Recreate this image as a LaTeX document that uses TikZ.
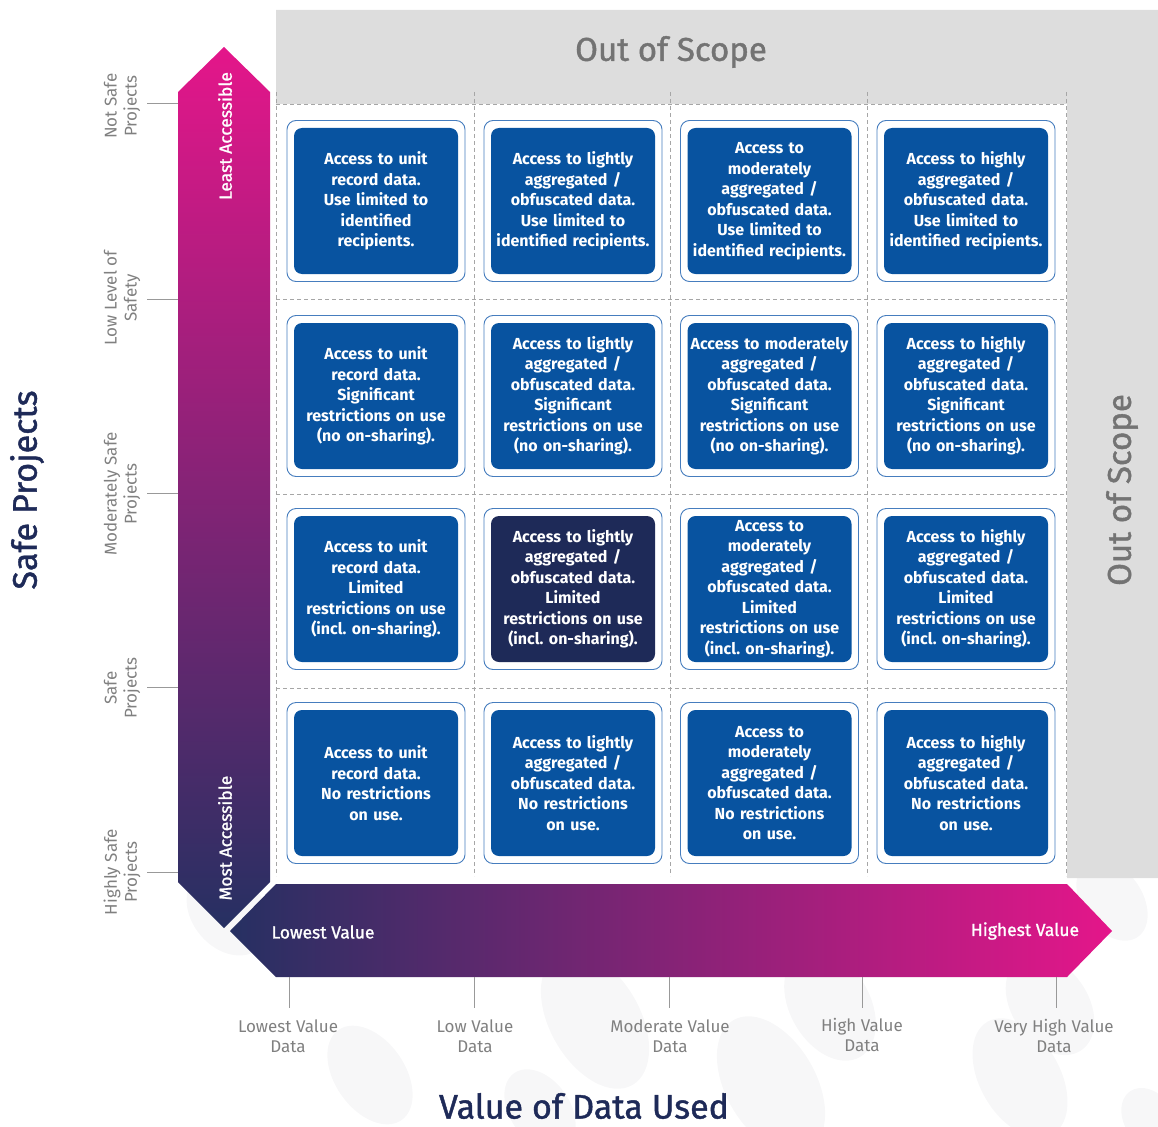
\documentclass[tikz,border=0pt]{standalone}
\usepackage{fontspec}
\setmainfont{Fira Sans}
\newfontfamily\medfont{Fira Sans}[FakeBold=1.2]
\usetikzlibrary{positioning}
\definecolor{cell-blue}{RGB}{8,83,160}
\definecolor{cell-navy}{RGB}{30,42,88}
\definecolor{frame-blue}{RGB}{70,125,190}
\definecolor{arrow-pink}{RGB}{228,22,138}
\definecolor{arrow-navy}{RGB}{38,48,98}
\definecolor{scope-grey}{RGB}{221,221,221}
\definecolor{label-grey}{RGB}{128,128,128}
\definecolor{blob-grey}{RGB}{247,247,248}
\frenchspacing

\begin{document}
\begin{tikzpicture}[
  x=1pt, y=-1pt,
  cellframe/.style={draw=frame-blue, line width=0.9pt, fill=white, rounded corners=9pt, minimum width=178pt, minimum height=161pt, inner sep=0pt},
  cell/.style={fill=cell-blue, rounded corners=8pt, minimum width=162pt, minimum height=146pt, text width=164pt, align=center, text=white, inner sep=0pt, font=\bfseries\fontsize{16}{20.5}\selectfont},
  axlab/.style={text=label-grey, align=center, font=\fontsize{17}{20}\selectfont},
  axtick/.style={draw=label-grey!80, line width=1pt},
  gridline/.style={draw=label-grey!70, dash pattern=on 4pt off 3pt, line width=0.9pt},
  arrtext/.style={text=white, font=\medfont\fontsize{17.5}{20}\selectfont},
  axtitle/.style={text=cell-navy, font=\medfont\fontsize{34}{36}\selectfont},
  scopetext/.style={text=label-grey!90!black, font=\medfont\fontsize{33}{34}\selectfont},
  blob/.style={fill=blob-grey},
]
  \useasboundingbox (0,0) rectangle (1158,1126);

  % faint background blobs
  \fill[blob, rotate around={-50:(228,912)}] (228,912) ellipse [x radius=48pt, y radius=36pt];
  \fill[blob, rotate around={-55:(1112,900)}] (1112,900) ellipse [x radius=45pt, y radius=30pt];
  \fill[blob, rotate around={-55:(370,1075)}] (370,1075) ellipse [x radius=55pt, y radius=35pt];
  \fill[blob, rotate around={-60:(595,1020)}] (595,1020) ellipse [x radius=75pt, y radius=45pt];
  \fill[blob, rotate around={-60:(771,1085)}] (771,1085) ellipse [x radius=75pt, y radius=45pt];
  \fill[blob, rotate around={-60:(830,1005)}] (830,1005) ellipse [x radius=60pt, y radius=40pt];
  \fill[blob, rotate around={-60:(1020,1078)}] (1020,1078) ellipse [x radius=65pt, y radius=40pt];
  \fill[blob, rotate around={-55:(1050,1005)}] (1050,1005) ellipse [x radius=55pt, y radius=38pt];
  \fill[blob, rotate around={-55:(540,1110)}] (540,1110) ellipse [x radius=45pt, y radius=30pt];
  \fill[blob, rotate around={-55:(1150,1120)}] (1150,1120) ellipse [x radius=35pt, y radius=25pt];

  % out of scope area
  \fill[scope-grey] (276,10) -- (1158,10) -- (1158,878) -- (1067,878) -- (1067,104) -- (276,104) -- cycle;
  \node[scopetext] (oostop) at (671,52) {Out of Scope};
  \node[scopetext, rotate=90] (oosright) at (1122,490) {Out of Scope};

  % grid
  \foreach \gx in {276,474,670,867,1066}
    \draw[gridline] (\gx,92) -- (\gx,876);
  \foreach \gy in {104,299,494,688}
    \draw[gridline] (276,\gy) -- (1066,\gy);

  % cell frames
  \foreach \cx [count=\i] in {376,573,769.5,966}
    \foreach \cy [count=\j] in {201,396,589,783}
      \node[cellframe] (f\i\j) at (\cx,\cy) {};

  % cells
  \node[cell] (c11) at (f11) {Access to unit\\record data.\\Use limited to\\identified\\recipients.};
  \node[cell] (c21) at (f21) {Access to lightly\\aggregated /\\obfuscated data.\\Use limited to\\identified recipients.};
  \node[cell] (c31) at (f31) {Access to\\moderately\\aggregated /\\obfuscated data.\\Use limited to\\identified recipients.};
  \node[cell] (c41) at (f41) {Access to highly\\aggregated /\\obfuscated data.\\Use limited to\\identified recipients.};

  \node[cell] (c12) at (f12) {Access to unit\\record data.\\Significant\\restrictions on use\\(no on-sharing).};
  \node[cell] (c22) at (f22) {Access to lightly\\aggregated /\\obfuscated data.\\Significant\\restrictions on use\\(no on-sharing).};
  \node[cell] (c32) at (f32) {Access to moderately\\aggregated /\\obfuscated data.\\Significant\\restrictions on use\\(no on-sharing).};
  \node[cell] (c42) at (f42) {Access to highly\\aggregated /\\obfuscated data.\\Significant\\restrictions on use\\(no on-sharing).};

  \node[cell] (c13) at (f13) {Access to unit\\record data.\\Limited\\restrictions on use\\(incl. on-sharing).};
  \node[cell, fill=cell-navy] (c23) at (f23) {Access to lightly\\aggregated /\\obfuscated data.\\Limited\\restrictions on use\\(incl. on-sharing).};
  \node[cell] (c33) at (f33) {Access to\\moderately\\aggregated /\\obfuscated data.\\Limited\\restrictions on use\\(incl. on-sharing).};
  \node[cell] (c43) at (f43) {Access to highly\\aggregated /\\obfuscated data.\\Limited\\restrictions on use\\(incl. on-sharing).};

  \node[cell] (c14) at (f14) {Access to unit\\record data.\\No restrictions\\on use.};
  \node[cell] (c24) at (f24) {Access to lightly\\aggregated /\\obfuscated data.\\No restrictions\\on use.};
  \node[cell] (c34) at (f34) {Access to\\moderately\\aggregated /\\obfuscated data.\\No restrictions\\on use.};
  \node[cell] (c44) at (f44) {Access to highly\\aggregated /\\obfuscated data.\\No restrictions\\on use.};

  % axis arrows
  \shade[top color=arrow-pink, bottom color=arrow-navy]
    (178,92) -- (224,47) -- (270,92) -- (270,882) -- (224,928) -- (178,882) -- cycle;
  \shade[left color=arrow-navy, right color=arrow-pink]
    (276,884) -- (1067,884) -- (1112,931) -- (1067,977) -- (276,977) -- (230,931) -- cycle;
  \node[arrtext, rotate=90] (least) at (225,136) {Least Accessible};
  \node[arrtext, rotate=90] (most) at (225,838) {Most Accessible};
  \node[arrtext] (lowest) at (323,932) {Lowest Value};
  \node[arrtext] (highest) at (1025,931) {Highest Value};

  % safety ticks
  \foreach \ty in {104,299,493,687,872}
    \draw[axtick] (147,\ty) -- (178,\ty);
  \node[axlab, rotate=90] (s1) at (122,106) {Not Safe\\Projects};
  \node[axlab, rotate=90] (s2) at (122,298) {Low Level of\\Safety};
  \node[axlab, rotate=90] (s3) at (122,494) {Moderately Safe\\Projects};
  \node[axlab, rotate=90] (s4) at (122,688) {Safe\\Projects};
  \node[axlab, rotate=90] (s5) at (122,872) {Highly Safe\\Projects};

  % value ticks
  \foreach \tx in {289,474,669,862,1056}
    \draw[axtick] (\tx,977) -- (\tx,1008);
  \node[axlab] (v1) at (288,1036) {Lowest Value\\Data};
  \node[axlab] (v2) at (475,1036) {Low Value\\Data};
  \node[axlab] (v3) at (670,1036) {Moderate Value\\Data};
  \node[axlab] (v4) at (862,1035) {High Value\\Data};
  \node[axlab] (v5) at (1054,1036) {Very High Value\\Data};

  % axis titles
  \node[axtitle, rotate=90] (ytitle) at (27,490) {Safe Projects};
  \node[axtitle] (xtitle) at (584,1106) {Value of Data Used};
\end{tikzpicture}
\end{document}
